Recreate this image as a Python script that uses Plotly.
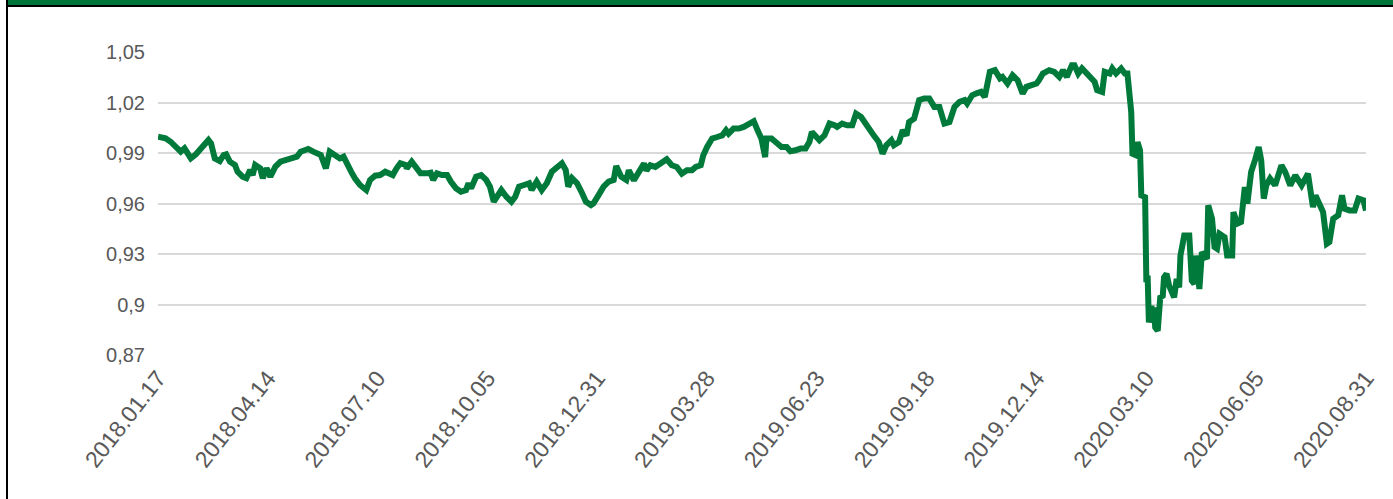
import pandas as pd
import plotly.graph_objects as go

# ---- data (days after 2018-01-17, value) ----
start_date = "2018-01-17"
day_offset = [
    0, 6, 10, 14, 18, 21, 23, 26, 30, 36, 40, 42, 45, 49, 52, 54, 57, 61, 63, 67,
    70, 73, 75, 77, 81, 83, 86, 89, 93, 97, 101, 106, 110, 113, 119, 123, 129, 133, 136, 140,
    144, 147, 151, 153, 156, 160, 165, 168, 172, 176, 180,
    186, 189, 192, 196, 197, 201, 205, 208, 213, 216, 218, 221, 225, 229, 232, 236, 240, 244, 246, 248,
    252, 256, 260, 263, 266, 270, 272, 276, 280, 283, 286, 290, 294, 296, 300, 304, 308, 312, 316, 320,
    323, 325, 328, 332, 336, 339, 343, 345, 349, 353, 357, 361, 363, 367, 371,
    373, 377, 381, 385, 387, 390, 394, 398, 403, 407, 411, 415, 419, 423, 426, 430, 432, 435, 439, 443,
    447, 450, 452, 456, 460, 464, 468, 472, 475, 478, 481, 482, 486, 490, 494, 498, 501, 505, 509, 513,
    516, 518, 524, 528, 532, 536, 538, 542, 546, 550, 553, 557, 561,
    563, 567, 571, 574, 577, 581, 583, 587, 590, 593, 595, 599, 603, 607, 611, 615, 619, 623, 627, 631,
    635, 639, 641, 645, 648, 652, 655, 659, 663, 667, 669, 673, 677, 681, 685, 688, 692, 696, 698, 701,
    706, 710, 714, 717, 720, 724, 726, 729, 732, 736, 740, 742, 744, 748, 750, 754, 756, 759, 763, 766, 768,
    770, 771, 772, 775, 776, 778, 779, 782, 783, 784, 785, 787, 788, 789, 790, 792, 794, 796, 797, 799,
    801, 805, 807, 809, 810, 813, 817, 819, 821, 822, 824, 825, 827, 831, 832, 835, 837, 839, 841, 845,
    847, 851, 852,
    855, 858, 861, 863, 866, 869, 872, 874, 876, 878, 881, 885, 888, 890, 893, 897, 901, 903, 906, 909,
    911, 915, 917, 920, 923, 926, 928, 931, 935, 938, 940, 944, 948, 951, 955, 957,
]
rate = [
    0.9997, 0.9987, 0.9967, 0.9937, 0.9908, 0.9928, 0.9898, 0.9868, 0.9892, 0.9948,
    0.9977, 0.9958, 0.9868, 0.9852, 0.9888, 0.9892, 0.9848, 0.9829, 0.9789, 0.9759,
    0.9750, 0.9799, 0.9769, 0.9829, 0.9809, 0.9750, 0.9809, 0.9759, 0.9819, 0.9848,
    0.9858, 0.9868, 0.9878, 0.9908, 0.9924, 0.9908, 0.9888, 0.9809, 0.9908, 0.9888,
    0.9868, 0.9878, 0.9829, 0.9789, 0.9750, 0.9710, 0.9680, 0.9740, 0.9765, 0.9769, 0.9789,
    0.9769, 0.9809, 0.9839, 0.9829, 0.9809, 0.9848, 0.9799, 0.9779, 0.9779, 0.9783,
    0.9740, 0.9779, 0.9769, 0.9769, 0.9730, 0.9690, 0.9670, 0.9680, 0.9720, 0.9690,
    0.9759, 0.9769, 0.9740, 0.9700, 0.9611, 0.9650, 0.9680, 0.9640, 0.9611, 0.9640,
    0.9700, 0.9710, 0.9720, 0.9680, 0.9730, 0.9680, 0.9720, 0.9789, 0.9819, 0.9839,
    0.9799, 0.9700, 0.9750, 0.9720, 0.9661, 0.9611, 0.9591, 0.9601, 0.9650, 0.9700,
    0.9730, 0.9740, 0.9823, 0.9759, 0.9740,
    0.9797, 0.9738, 0.9787, 0.9837, 0.9797, 0.9827, 0.9817, 0.9837, 0.9863, 0.9827,
    0.9817, 0.9777, 0.9797, 0.9797, 0.9817, 0.9827, 0.9886, 0.9936, 0.9986, 0.9995,
    1.0005, 1.0035, 1.0015, 1.0045, 1.0045, 1.0055, 1.0075, 1.0089, 1.0035, 0.9986,
    0.9876, 0.9986, 0.9986, 0.9965, 0.9936, 0.9936, 0.9910, 0.9916, 0.9926, 0.9926,
    0.9965, 1.0025, 0.9976, 1.0005, 1.0075, 1.0065, 1.0055, 1.0075, 1.0065, 1.0065,
    1.0134, 1.0114, 1.0065,
    1.0055, 1.0005, 0.9965, 0.9896, 0.9946, 0.9976, 0.9946, 0.9965, 1.0035, 1.0005,
    1.0084, 1.0104, 1.0214, 1.0224, 1.0224, 1.0174, 1.0174, 1.0075, 1.0084, 1.0174,
    1.0204, 1.0214, 1.0194, 1.0243, 1.0253, 1.0263, 1.0233, 1.0382, 1.0392, 1.0343,
    1.0352, 1.0313, 1.0362, 1.0333, 1.0253, 1.0293, 1.0303, 1.0313, 1.0333, 1.0372,
    1.0392, 1.0382, 1.0352, 1.0392, 1.0352, 1.0422, 1.0422, 1.0372, 1.0402, 1.0372,
    1.0343, 1.0323, 1.0273, 1.0263, 1.0382, 1.0372, 1.0402, 1.0372, 1.0402, 1.0372, 1.0372,
    1.0184, 1.0144, 0.9896, 0.9886, 0.9965, 0.9916, 0.9648, 0.9638, 0.9132, 0.9172,
    0.8893, 0.8993, 0.8893, 0.8983, 0.8864, 0.8844, 0.9042, 0.9052, 0.9162, 0.9182,
    0.9112, 0.9042, 0.9152, 0.9102, 0.9291, 0.9410, 0.9410, 0.9142, 0.9122, 0.9291,
    0.9172, 0.9092, 0.9311, 0.9271, 0.9589, 0.9510, 0.9341, 0.9331, 0.9420, 0.9400,
    0.9291, 0.9291, 0.9549,
    0.9480, 0.9490, 0.9698, 0.9599, 0.9787, 0.9856, 0.9936, 0.9856, 0.9629, 0.9708,
    0.9748, 0.9708, 0.9777, 0.9827, 0.9787, 0.9708, 0.9767, 0.9748, 0.9708, 0.9748,
    0.9777, 0.9579, 0.9648, 0.9599, 0.9549, 0.9361, 0.9371, 0.9510, 0.9530, 0.9648,
    0.9569, 0.9559, 0.9559, 0.9629, 0.9619, 0.9559,
]

x_tick_labels = ["2018.01.17", "2018.04.14", "2018.07.10", "2018.10.05", "2018.12.31",
                 "2019.03.28", "2019.06.23", "2019.09.18", "2019.12.14", "2020.03.10",
                 "2020.06.05", "2020.08.31"]
y_tick_vals = [0.87, 0.90, 0.93, 0.96, 0.99, 1.02, 1.05]
y_tick_labels = ["0,87", "0,9", "0,93", "0,96", "0,99", "1,02", "1,05"]

# ---- build ----
dates = pd.Timestamp(start_date) + pd.to_timedelta(day_offset, unit="D")
x_tick_vals = [pd.Timestamp(t.replace(".", "-")) for t in x_tick_labels]

W, H = 1393, 499
L, R, T, B = 158, 27, 52, 144
pw, ph = W - L - R, H - T - B


def px(x):
    return (x - L) / pw


def py(y):
    return (H - B - y) / ph


GREEN = "#007A3A"
fig = go.Figure()
fig.add_trace(go.Scatter(
    x=dates, y=rate, mode="lines",
    line=dict(color=GREEN, width=6, shape="linear"),
    hoverinfo="x+y", showlegend=False,
))

font_color = "#595959"
fig.update_layout(
    width=W, height=H, autosize=False,
    margin=dict(l=L, r=R, t=T, b=B, pad=0),
    paper_bgcolor="white", plot_bgcolor="white",
    font=dict(family="Liberation Sans, Arial, sans-serif", size=20, color=font_color),
    xaxis=dict(
        type="date",
        range=[x_tick_vals[0], x_tick_vals[-1]],
        tickmode="array", tickvals=x_tick_vals, ticktext=x_tick_labels,
        tickangle=-52, showgrid=False, zeroline=False, showline=False,
        ticks="", ticklabelstandoff=4,
        tickfont=dict(size=23, color=font_color),
    ),
    yaxis=dict(
        range=[0.87, 1.05],
        tickmode="array", tickvals=y_tick_vals, ticktext=y_tick_labels,
        showgrid=True, gridcolor="#D9D9D9", gridwidth=2,
        zeroline=False, showline=False, ticks="", ticklabelstandoff=12,
        tickfont=dict(size=20, color=font_color),
    ),
    shapes=[
        # green title band (clipped at top of page)
        dict(type="rect", xref="paper", yref="paper",
             x0=px(8), x1=px(W + 20), y0=py(5), y1=py(-30),
             fillcolor="#00773A", line=dict(width=0), layer="above"),
        # black frame: top and left edges
        dict(type="line", xref="paper", yref="paper",
             x0=px(7), x1=px(W + 20), y0=py(6), y1=py(6),
             line=dict(color="black", width=2), layer="above"),
        dict(type="line", xref="paper", yref="paper",
             x0=px(7), x1=px(7), y0=py(-30), y1=py(H + 30),
             line=dict(color="black", width=2), layer="above"),
    ],
)

fig.write_html(
    "out.html",
    config={"displayModeBar": False},
    post_script="document.body.style.margin='0';document.body.style.overflow='hidden';",
)
